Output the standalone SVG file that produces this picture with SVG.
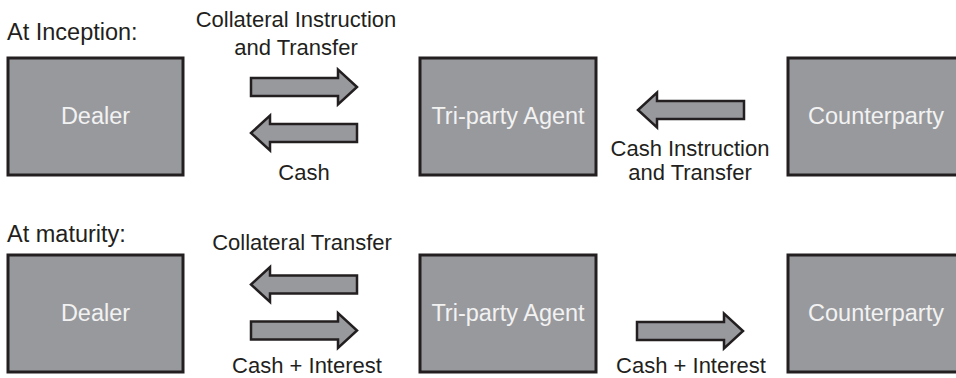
<svg xmlns="http://www.w3.org/2000/svg" width="956" height="378" viewBox="0 0 956 378">
<style>
.box{fill:#98999d;stroke:#231f20;stroke-width:3}
.btxt{font-family:"Liberation Sans",Arial,sans-serif;font-size:23.5px;fill:#f2f2f2;text-anchor:middle}
.lbl{font-family:"Liberation Sans",Arial,sans-serif;font-size:22px;fill:#231f20;text-anchor:middle}
.head{font-family:"Liberation Sans",Arial,sans-serif;font-size:23.5px;fill:#231f20}
.arr{fill:#98999d;stroke:#231f20;stroke-width:2.5;stroke-linejoin:miter}
</style>
<rect width="956" height="378" fill="#ffffff"/>
<text class="head" x="7" y="40">At Inception:</text>
<text class="head" x="7" y="242">At maturity:</text>
<g id="dealer-top"><rect class="box" x="8" y="58" width="175" height="117"/><text class="btxt" x="95.5" y="124">Dealer</text></g>
<g id="agent-top"><rect class="box" x="420" y="58" width="176" height="117"/><text class="btxt" x="508" y="124">Tri-party Agent</text></g>
<g id="counterparty-top"><rect class="box" x="788" y="58" width="176" height="117"/><text class="btxt" x="876" y="124">Counterparty</text></g>
<g id="dealer-bottom"><rect class="box" x="8" y="255" width="175" height="117"/><text class="btxt" x="95.5" y="321">Dealer</text></g>
<g id="agent-bottom"><rect class="box" x="420" y="255" width="176" height="117"/><text class="btxt" x="508" y="321">Tri-party Agent</text></g>
<g id="counterparty-bottom"><rect class="box" x="788" y="255" width="176" height="117"/><text class="btxt" x="876" y="321">Counterparty</text></g>
<g id="connectors">
<polygon class="arr" points="251,78 338,78 338,69.5 357,87 338,104.5 338,96 251,96"/>
<polygon class="arr" points="357,124 270,124 270,115.5 251,133 270,150.5 270,142 357,142"/>
<polygon class="arr" points="744,101 657,101 657,92.5 638,110 657,127.5 657,119 744,119"/>
<polygon class="arr" points="357,275.5 270,275.5 270,267 251,284.5 270,302 270,293.5 357,293.5"/>
<polygon class="arr" points="251,321.5 338,321.5 338,313 357,330.5 338,348 338,339.5 251,339.5"/>
<polygon class="arr" points="637,322 724,322 724,313.5 743,331 724,348.5 724,340 637,340"/>
<text class="lbl" x="296" y="27">Collateral Instruction</text>
<text class="lbl" x="296" y="55">and Transfer</text>
<text class="lbl" x="304" y="180">Cash</text>
<text class="lbl" x="690" y="156">Cash Instruction</text>
<text class="lbl" x="690" y="180">and Transfer</text>
<text class="lbl" x="302" y="250">Collateral Transfer</text>
<text class="lbl" x="307" y="373">Cash + Interest</text>
<text class="lbl" x="691" y="373">Cash + Interest</text>
</g>
</svg>
